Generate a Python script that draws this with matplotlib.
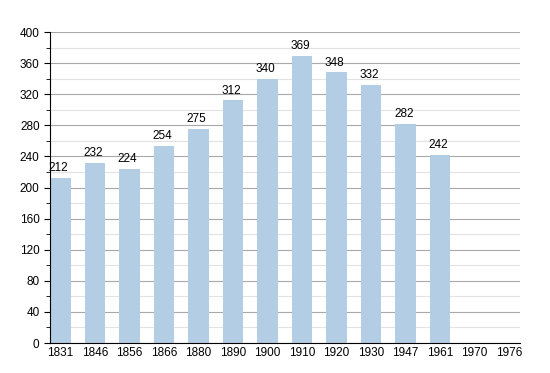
import matplotlib
matplotlib.use('Agg')
import matplotlib.pyplot as plt
from matplotlib.ticker import MultipleLocator

plt.rcParams['font.family'] = ['Liberation Sans', 'DejaVu Sans']

# Population by census year
years = ['1831', '1846', '1856', '1866', '1880', '1890', '1900',
         '1910', '1920', '1930', '1947', '1961', '1970', '1976']
population = [212, 232, 224, 254, 275, 312, 340, 369, 348, 332, 282, 242, None, None]

fig = plt.figure(figsize=(5.5, 3.73), dpi=100)
ax = fig.add_axes([0.0909, 0.0804, 0.8546, 0.8336])

pos = list(range(len(years)))
for i, v in zip(pos, population):
    if v is None:
        continue
    ax.bar(i, v, width=0.6, color='#b3cde5', zorder=2)
    ax.text(i - 0.05, v + 5, str(v), ha='center', va='bottom', fontsize=8.5, zorder=3)

ax.set_xlim(-0.3, 13.32)
ax.set_ylim(0, 400)
ax.set_xticks(pos)
ax.set_xticklabels(years, fontsize=8.5)
ax.tick_params(axis='x', length=0, pad=3)
ax.yaxis.set_major_locator(MultipleLocator(40))
ax.yaxis.set_minor_locator(MultipleLocator(20))
ax.tick_params(axis='y', which='major', length=4, labelsize=8.5)
ax.tick_params(axis='y', which='minor', length=3)

# Grid
ax.grid(True, axis='y', which='major', color='#a8a8a8', linewidth=0.8, zorder=0)
ax.grid(True, axis='y', which='minor', color='#e2e2e2', linewidth=0.8, zorder=0)
ax.set_axisbelow(True)

for s in ['top', 'right']:
    ax.spines[s].set_visible(False)

plt.savefig('out.png', dpi=100)
